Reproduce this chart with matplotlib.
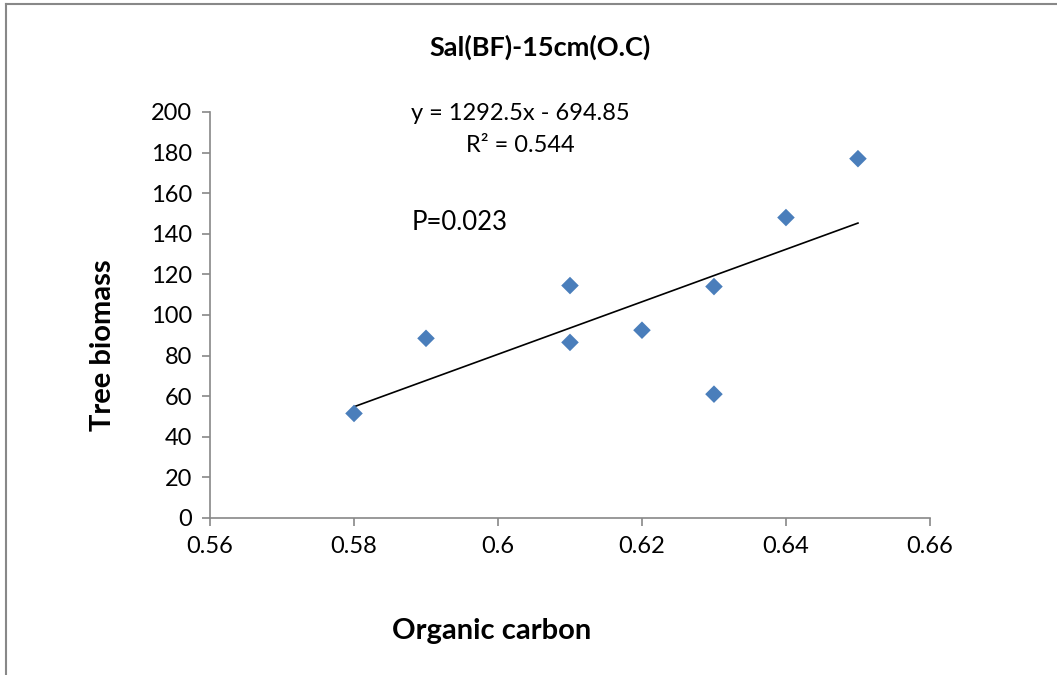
import numpy as np
import matplotlib.pyplot as plt

plt.rcParams['font.family'] = ['Lato', 'DejaVu Sans']

# data
organic_carbon = [0.58, 0.59, 0.61, 0.61, 0.62, 0.63, 0.63, 0.64, 0.65]
tree_biomass = [51.5, 88.5, 114.5, 86.5, 92.5, 114, 61, 148, 177]
slope = 1292.5
intercept = -694.85
x_ticks = [0.56, 0.58, 0.6, 0.62, 0.64, 0.66]
x_labels = ['0.56', '0.58', '0.6', '0.62', '0.64', '0.66']
y_ticks = list(range(0, 201, 20))

fig = plt.figure(figsize=(10.57, 6.75), dpi=100)
ax = fig.add_axes([0.1987, 0.2326, 0.6811, 0.6015])

ax.scatter(organic_carbon, tree_biomass, marker='D', s=80, color='#4A7EBB',
           edgecolors='none', zorder=3)

xfit = np.array([min(organic_carbon), max(organic_carbon)])
ax.plot(xfit, slope * xfit + intercept, color='black', lw=1.2, zorder=2)

ax.set_xlim(0.56, 0.66)
ax.set_ylim(0, 200)
ax.set_xticks(x_ticks)
ax.set_xticklabels(x_labels)
ax.set_yticks(y_ticks)
ax.tick_params(labelsize=17, color='#888888', length=6, width=1.2, pad=7)

for side in ['top', 'right']:
    ax.spines[side].set_visible(False)
for side in ['left', 'bottom']:
    ax.spines[side].set_color('#888888')
    ax.spines[side].set_linewidth(1.2)

fig.text(0.511, 0.930, 'Sal(BF)-15cm(O.C)', ha='center', va='center',
         fontsize=19.5, fontweight='bold')
fig.text(0.465, 0.065, 'Organic carbon', ha='center', va='center',
         fontsize=21, fontweight='bold')
fig.text(0.097, 0.489, 'Tree biomass', ha='center', va='center',
         rotation=90, fontsize=21, fontweight='bold')

fig.text(0.492, 0.832, 'y = 1292.5x - 694.85', ha='center', va='center', fontsize=17)
fig.text(0.492, 0.785, 'R² = 0.544', ha='center', va='center', fontsize=17)
fig.text(0.389, 0.671, 'P=0.023', ha='left', va='center', fontsize=18.5)

# chart frame (only left and top edges are visible in the crop)
fig.add_artist(plt.Line2D([0.0057, 0.0057], [0.0, 0.994], color='#888888', lw=1.5))
fig.add_artist(plt.Line2D([0.0057, 1.0], [0.994, 0.994], color='#888888', lw=1.5))

fig.savefig('out.png', dpi=100)
